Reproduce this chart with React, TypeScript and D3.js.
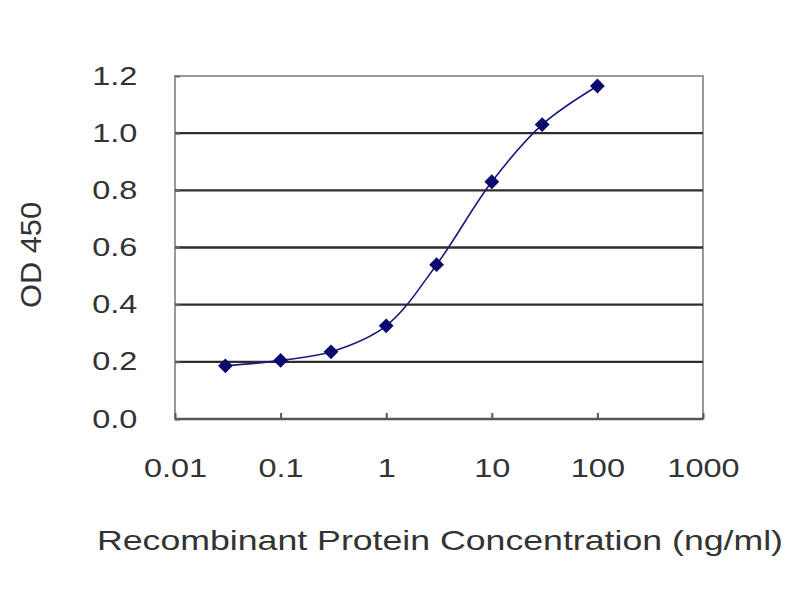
import React, { useEffect, useRef } from "react";
import * as d3 from "d3";

// concentration (ng/ml) and measured OD 450
const concentrations = [0.03, 0.1, 0.3, 1, 3, 10, 30, 100];
const odValues = [0.186, 0.205, 0.235, 0.326, 0.54, 0.83, 1.03, 1.165];
const xTicks = [0.01, 0.1, 1, 10, 100, 1000];
const xTickLabels = ["0.01", "0.1", "1", "10", "100", "1000"];
const yTicks = [0, 0.2, 0.4, 0.6, 0.8, 1.0, 1.2];

const FONT = "'Liberation Sans', Arial, sans-serif";

export default function App() {
  const svgRef = useRef<SVGSVGElement>(null);

  useEffect(() => {
    if (!svgRef.current) return;
    const svg = d3.select(svgRef.current);
    svg.selectAll("*").remove();

    const left = 175,
      right = 703,
      top = 76,
      bottom = 419;

    const x = d3.scaleLog().domain([0.01, 1000]).range([left, right]);
    const y = d3.scaleLinear().domain([0, 1.2]).range([bottom, top]);

    svg.append("rect").attr("width", 800).attr("height", 600).attr("fill", "#fff");

    // plot frame
    svg
      .append("rect")
      .attr("x", left)
      .attr("y", top)
      .attr("width", right - left)
      .attr("height", bottom - top)
      .attr("fill", "none")
      .attr("stroke", "#999")
      .attr("stroke-width", 2);

    // gridlines
    svg
      .selectAll(".grid")
      .data(yTicks.filter((d) => d > 0 && d < 1.2))
      .enter()
      .append("line")
      .attr("x1", left)
      .attr("x2", right)
      .attr("y1", (d) => y(d))
      .attr("y2", (d) => y(d))
      .attr("stroke", "#2e2e2e")
      .attr("stroke-width", 2.4);

    // bottom axis line
    svg
      .append("line")
      .attr("x1", left)
      .attr("x2", right)
      .attr("y1", bottom)
      .attr("y2", bottom)
      .attr("stroke", "#555")
      .attr("stroke-width", 2.5);

    const xAxis = d3
      .axisBottom(x)
      .tickValues(xTicks)
      .tickSizeInner(-6)
      .tickSizeOuter(0)
      .tickPadding(40)
      .tickFormat((d, i) => xTickLabels[i]);

    const gx = svg
      .append("g")
      .attr("transform", `translate(0,${bottom})`)
      .call(xAxis);
    gx.select(".domain").remove();
    gx.selectAll(".tick line").attr("stroke", "#555").attr("stroke-width", 2);
    gx.selectAll(".tick text")
      .attr("fill", "#333")
      .style("font-family", FONT)
      .style("font-size", "25px")
      .attr("transform", "scale(1.3,1)");

    const yAxis = d3
      .axisLeft(y)
      .tickValues(yTicks)
      .tickSizeInner(-5)
      .tickSizeOuter(0)
      .tickPadding(29)
      .tickFormat((d) => (d as number).toFixed(1));

    const gy = svg
      .append("g")
      .attr("transform", `translate(${left},0)`)
      .call(yAxis);
    gy.select(".domain").remove();
    gy.selectAll(".tick line").attr("stroke", "#666").attr("stroke-width", 2);
    gy.selectAll(".tick text")
      .attr("fill", "#333")
      .style("font-family", FONT)
      .style("font-size", "25px")
      .attr("transform", "scale(1.3,1)");

    // fitted curve
    const points = concentrations.map((c, i) => [c, odValues[i]] as [number, number]);
    const line = d3
      .line<[number, number]>()
      .x((d) => x(d[0]))
      .y((d) => y(d[1]))
      .curve(d3.curveCatmullRom.alpha(0.5));

    svg
      .append("path")
      .datum(points)
      .attr("d", line)
      .attr("fill", "none")
      .attr("stroke", "#1a1a80")
      .attr("stroke-width", 1.6);

    // diamond markers
    const diamond = d3.symbol().type(d3.symbolDiamond2).size(140);
    svg
      .selectAll(".pt")
      .data(points)
      .enter()
      .append("path")
      .attr("d", diamond)
      .attr("transform", (d) => `translate(${x(d[0])},${y(d[1])})`)
      .attr("fill", "#0a0a6e");

    // axis titles
    svg
      .append("text")
      .attr("x", 440)
      .attr("y", 550)
      .attr("text-anchor", "middle")
      .attr("textLength", 686)
      .attr("lengthAdjust", "spacingAndGlyphs")
      .style("font-family", FONT)
      .style("font-size", "28px")
      .attr("fill", "#333")
      .text("Recombinant Protein Concentration (ng/ml)");

    svg
      .append("text")
      .attr("transform", "translate(41,255) rotate(-90)")
      .attr("text-anchor", "middle")
      .attr("textLength", 106)
      .attr("lengthAdjust", "spacingAndGlyphs")
      .style("font-family", FONT)
      .style("font-size", "30px")
      .attr("fill", "#333")
      .text("OD 450");
  }, []);

  return (
    <svg
      ref={svgRef}
      width={800}
      height={600}
      style={{ position: "absolute", left: 0, top: 0 }}
    />
  );
}
